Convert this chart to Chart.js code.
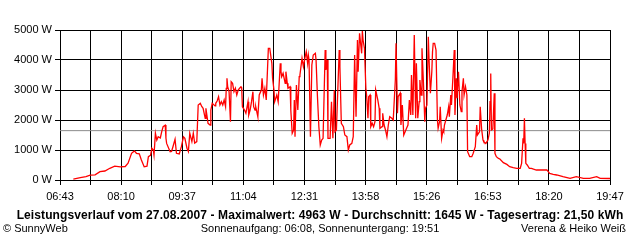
<!DOCTYPE html>
<html>
<head>
<meta charset="utf-8">
<script src="https://cdn.jsdelivr.net/npm/chart.js@4/dist/chart.umd.min.js"></script>
<style>
  html, body { margin: 0; padding: 0; background: #fff; }
  #wrap { position: relative; width: 640px; height: 240px; overflow: hidden; }
  canvas { position: absolute; left: 0; top: 0; }
  .txt { position: absolute; font-family: "Liberation Sans", Arial, sans-serif; color: #000; white-space: nowrap; }
  #title { left: 0; width: 640px; text-align: center; top: 208px; font-size: 12px; font-weight: bold; line-height: 14px; letter-spacing: 0.1px; }
  #fl { left: 3px; top: 222px; font-size: 11px; line-height: 13px; }
  #fc { left: 0; width: 640px; text-align: center; top: 222px; font-size: 11px; line-height: 13px; }
  #fr { right: 14px; top: 222px; font-size: 11px; line-height: 13px; }
</style>
</head>
<body>
<div id="wrap">
  <canvas id="c" width="640" height="240"></canvas>
  <div class="txt" id="title">Leistungsverlauf vom 27.08.2007 - Maximalwert: 4963 W - Durchschnitt: 1645 W - Tagesertrag: 21,50 kWh</div>
  <div class="txt" id="fl">© SunnyWeb</div>
  <div class="txt" id="fc">Sonnenaufgang: 06:08, Sonnenuntergang: 19:51</div>
  <div class="txt" id="fr">Verena &amp; Heiko Weiß</div>
</div>
<script>
// Time of day in minutes since midnight
const minutes = [422,432,440,446,453,460,467,474,481,489,496,500,505,509,512,516,519,523,527,529,532,534,536,537,539,541,543,546,548,550,553,554,555,560,562,564,567,569,573,576,579,581,584,586,588,591,593,595,598,600,603,605,607,610,611,614,617,618,620,624,625,627,629,631,633,635,637,639,640,641,642,644,646,647,649,651,653,655,657,659,661,662,663,666,668,671,672,674,676,678,679,681,682,684,685,687,690,691,693,695,697,700,702,705,706,708,709,712,714,717,718,719,721,724,725,727,728,731,732,734,736,737,738,740,742,744,745,748,750,752,754,756,757,758,760,762,764,767,768,770,772,774,776,778,781,782,784,785,788,790,792,794,795,797,801,802,804,807,809,812,814,816,819,821,823,825,827,828,830,832,833,834,835,837,839,840,842,843,845,846,848,850,852,853,856,858,859,862,863,865,867,869,871,873,876,878,881,882,884,885,888,889,891,893,895,897,899,901,903,904,906,908,909,910,911,913,915,916,918,919,921,923,924,926,928,929,931,933,934,935,937,939,941,942,944,945,947,949,950,951,953,955,957,958,960,961,963,965,966,968,969,971,973,975,976,978,979,981,983,984,986,987,990,992,995,997,998,1001,1002,1004,1006,1007,1010,1013,1015,1016,1017,1018,1020,1022,1023,1025,1028,1030,1035,1040,1044,1049,1054,1059,1061,1063,1064,1065,1066,1067,1069,1072,1075,1078,1082,1097,1099,1101,1106,1111,1120,1130,1139,1149,1158,1168,1173,1187];
// Power in W
const watts = [30,80,110,160,170,280,300,390,460,440,450,560,890,970,890,870,670,440,460,780,820,1060,1000,830,1560,1330,1440,1400,1610,1780,1830,1400,1220,940,950,1110,1360,890,870,1110,1440,1390,1060,950,1560,1280,1560,1230,1280,2500,2557,2450,2390,2057,2390,1890,1833,2333,2557,2470,2557,2633,2777,2500,2610,2500,2667,2443,3057,3390,3110,2943,1943,3277,3223,2943,3057,2833,3000,3057,3110,3077,2443,2333,2223,2610,2167,2333,2610,2943,2443,2333,2443,2223,2110,2833,3000,3390,2833,3057,2667,4390,4390,3890,3390,3000,2610,2833,2610,3890,3610,3443,3557,3223,3610,3223,3057,3110,2333,1557,1667,2667,1443,3167,2333,3443,3500,4057,3777,4057,4277,3890,4167,4000,1443,3833,4167,4223,4000,2777,1777,1167,1333,1390,4333,3667,4000,1390,1390,2610,1390,3000,1610,1667,4333,3777,1890,1777,1500,1443,1000,1167,1223,1443,4167,2110,4667,3610,4890,4443,4223,4963,4667,4390,3057,2833,2057,2777,2833,1777,1890,1777,1943,3000,2667,2390,1723,1777,2223,1833,1667,1443,1833,2110,2057,2000,3333,4557,2223,2777,2900,1833,2500,1500,1610,1723,1833,2667,2167,3500,2167,4833,4833,2057,3890,2057,2610,3333,2833,4390,3277,1943,2390,2500,4777,4057,2890,3610,4277,4557,4557,4333,2000,1723,1943,2443,1390,1667,1610,1833,2000,2167,2443,2110,2833,2500,3390,4333,2167,3390,2723,3610,2500,2277,2943,3390,2833,3110,2833,943,833,777,777,890,1110,1833,1500,1610,2443,1700,1333,1280,1220,1333,1560,2610,3550,1667,1700,2890,890,777,720,700,577,520,443,410,390,390,550,1390,1220,2057,1220,557,500,390,390,360,333,333,280,223,190,167,110,57,110,57,57,110,57,50];
const averageW = 1645;
const tickLabels = ['06:43','08:10','09:37','11:04','12:31','13:58','15:26','16:53','18:20','19:47'];
const yTicks = [0,1000,2000,3000,4000,5000];
const startMin = 403, endMin = 1187;

const pts = minutes.map((m, i) => ({ x: m, y: watts[i] }));
const step = (endMin - startMin) / ((tickLabels.length - 1) * 2);

new Chart(document.getElementById('c'), {
  type: 'line',
  data: {
    datasets: [
      { data: [{x: startMin, y: averageW}, {x: endMin, y: averageW}], borderColor: '#8c8c8c', borderWidth: 1, pointRadius: 0, tension: 0, order: 2 },
      { data: pts, borderColor: '#ff0000', borderWidth: 1.3, pointRadius: 0, tension: 0, order: 1 }
    ]
  },
  options: {
    responsive: false,
    animation: false,
    events: [],
    layout: { padding: { left: 0, right: 30, top: 30, bottom: 40 } },
    plugins: { legend: { display: false }, tooltip: { enabled: false } },
    scales: {
      x: {
        type: 'linear', min: startMin, max: endMin,
        afterBuildTicks: (s) => { const t = []; for (let i = 0; i <= (tickLabels.length - 1) * 2; i++) t.push({ value: startMin + i * step }); s.ticks = t; },
        afterFit: (s) => { s.height = 20; },
        ticks: {
          autoSkip: false, maxRotation: 0, padding: 5, color: '#000',
          font: { family: 'Liberation Sans', size: 11 },
          callback: (v, i) => (i % 2 === 0 ? tickLabels[i / 2] : '')
        },
        grid: { color: '#000', lineWidth: 1, tickLength: 5, drawTicks: true },
        border: { color: '#000', width: 1 }
      },
      y: {
        min: 0, max: 5000,
        afterBuildTicks: (s) => { s.ticks = yTicks.map(v => ({ value: v })); },
        afterFit: (s) => { s.width = 60; },
        ticks: { padding: 3, color: '#000', font: { family: 'Liberation Sans', size: 11 }, callback: (v) => v + ' W' },
        grid: { color: '#000', lineWidth: 1, tickLength: 5, drawTicks: true },
        border: { color: '#000', width: 1 }
      }
    }
  }
});
</script>
</body>
</html>
